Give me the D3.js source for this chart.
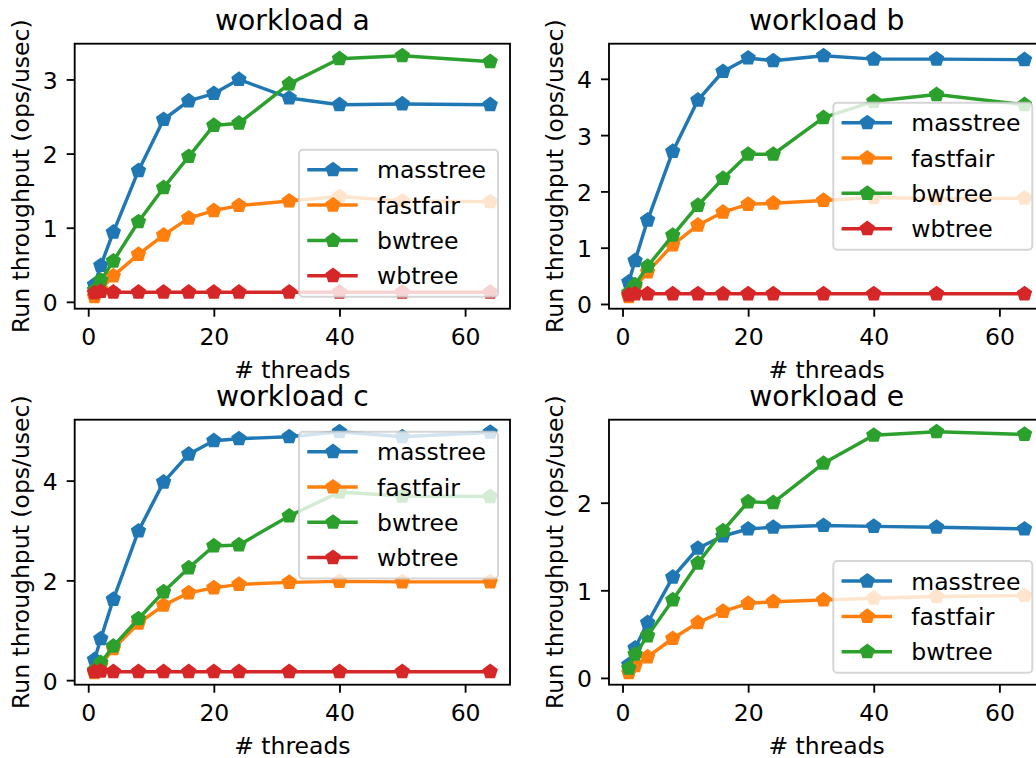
<!DOCTYPE html>
<html>
<head>
<meta charset="utf-8">
<script src="https://cdn.jsdelivr.net/npm/d3@7"></script>
<style>
body { margin: 0; background: #fff; }
svg { display: block; font-family: "DejaVu Sans", sans-serif; }
</style>
</head>
<body>
<svg id="svg"></svg>
<script>
//Data
const threads = [1, 2, 4, 8, 12, 16, 20, 24, 32, 40, 50, 64];
const seriesNames = ["masstree", "fastfair", "bwtree", "wbtree"];
const colors = ["#1f77b4", "#ff7f0e", "#2ca02c", "#d62728"];
const titles = ["workload a", "workload b", "workload c", "workload e"];
const xTicks = [0, 20, 40, 60];
const yTicksA = [0, 1, 2, 3];
const yTicksB = [0, 1, 2, 3, 4];
const yTicksC = [0, 2, 4];
const yTicksE = [0, 1, 2];
const xLabel = "# threads";
const yLabel = "Run throughput (ops/usec)";

// workload a
const aMasstree = [0.23, 0.49, 0.94, 1.77, 2.46, 2.71, 2.81, 3.00, 2.75, 2.66, 2.67, 2.66];
const aFastfair = [0.07, 0.17, 0.35, 0.64, 0.90, 1.13, 1.23, 1.30, 1.36, 1.42, 1.36, 1.35];
const aBwtree = [0.16, 0.29, 0.55, 1.08, 1.54, 1.96, 2.38, 2.41, 2.94, 3.28, 3.32, 3.24];
const aWbtree = [0.12, 0.14, 0.13, 0.13, 0.13, 0.13, 0.13, 0.13, 0.13, 0.13, 0.13, 0.13];

// workload b
const bMasstree = [0.39, 0.77, 1.49, 2.71, 3.62, 4.13, 4.37, 4.32, 4.41, 4.35, 4.35, 4.34];
const bFastfair = [0.13, 0.30, 0.57, 1.05, 1.40, 1.63, 1.77, 1.79, 1.84, 1.89, 1.87, 1.88];
const bBwtree = [0.20, 0.34, 0.67, 1.22, 1.75, 2.23, 2.66, 2.66, 3.31, 3.60, 3.72, 3.54];
const bWbtree = [0.16, 0.18, 0.18, 0.18, 0.18, 0.18, 0.18, 0.18, 0.18, 0.18, 0.18, 0.18];

// workload c
const cMasstree = [0.41, 0.83, 1.62, 2.99, 3.97, 4.53, 4.80, 4.84, 4.88, 4.98, 4.88, 4.97];
const cFastfair = [0.15, 0.30, 0.63, 1.14, 1.50, 1.75, 1.85, 1.92, 1.96, 1.98, 1.97, 1.97];
const cBwtree = [0.20, 0.35, 0.68, 1.23, 1.77, 2.25, 2.69, 2.71, 3.29, 3.77, 3.69, 3.68];
const cWbtree = [0.17, 0.18, 0.17, 0.17, 0.17, 0.17, 0.17, 0.17, 0.17, 0.17, 0.17, 0.17];

// workload e (no wbtree)
const eMasstree = [0.15, 0.34, 0.63, 1.15, 1.48, 1.62, 1.70, 1.72, 1.74, 1.73, 1.72, 1.70];
const eFastfair = [0.06, 0.14, 0.24, 0.45, 0.63, 0.76, 0.85, 0.87, 0.89, 0.91, 0.93, 0.94];
const eBwtree = [0.11, 0.27, 0.48, 0.89, 1.31, 1.68, 2.01, 2.00, 2.45, 2.77, 2.81, 2.78];

const panelSeries = [
    [aMasstree, aFastfair, aBwtree, aWbtree],
    [bMasstree, bFastfair, bBwtree, bWbtree],
    [cMasstree, cFastfair, cBwtree, cWbtree],
    [eMasstree, eFastfair, eBwtree]
];
const panelYTicks = [yTicksA, yTicksB, yTicksC, yTicksE];

//Layout
const svgWidth = 1036;
const svgHeight = 758;
const axW = 435.3;
const axH = 265;
const panelPos = [
    { left: 74.7, top: 43.7, legend: "lower right" },
    { left: 609, top: 43.7, legend: "center right" },
    { left: 74.7, top: 419.7, legend: "upper right" },
    { left: 609, top: 419.7, legend: "lower right" }
];
const fontSize = 23.5;
const titleSize = 28.2;
const lineWidth = 3.46;
const spineWidth = 1.84;
const tickLen = 8;
const markerR = 8.1;

// pentagon marker for d3.symbol, size = radius^2
const pentagon = {
    draw(ctx, size) {
        const r = Math.sqrt(size);
        for (let k = 0; k < 5; k++) {
            const a = -Math.PI / 2 + k * 2 * Math.PI / 5;
            if (k === 0) ctx.moveTo(r * Math.cos(a), r * Math.sin(a));
            else ctx.lineTo(r * Math.cos(a), r * Math.sin(a));
        }
        ctx.closePath();
    }
};
const markerPath = d3.symbol().type(pentagon).size(markerR * markerR)();

const svg = d3.select("#svg")
    .attr("width", svgWidth)
    .attr("height", svgHeight);

// matplotlib-like autoscale with 5% margins
function padded(lo, hi) {
    const m = (hi - lo) * 0.05;
    return [lo - m, hi + m];
}

panelPos.forEach((p, pi) => {
    const series = panelSeries[pi];
    const allVals = series.flat();

    const x = d3.scaleLinear()
        .domain(padded(d3.min(threads), d3.max(threads)))
        .range([p.left, p.left + axW]);
    const y = d3.scaleLinear()
        .domain(padded(d3.min(allVals), d3.max(allVals)))
        .range([p.top + axH, p.top]);

    const g = svg.append("g");

    const clipId = "clip" + pi;
    g.append("clipPath").attr("id", clipId)
        .append("rect")
        .attr("x", p.left).attr("y", p.top)
        .attr("width", axW).attr("height", axH);

    // lines + markers, one series at a time
    const plot = g.append("g").attr("clip-path", "url(#" + clipId + ")");
    const line = d3.line()
        .x((d, i) => x(threads[i]))
        .y(d => y(d));

    series.forEach((vals, si) => {
        plot.append("path")
            .datum(vals)
            .attr("d", line)
            .attr("fill", "none")
            .attr("stroke", colors[si])
            .attr("stroke-width", lineWidth)
            .attr("stroke-linejoin", "round")
            .attr("stroke-linecap", "square");
        plot.selectAll(null)
            .data(vals)
            .enter()
            .append("path")
            .attr("d", markerPath)
            .attr("fill", colors[si])
            .attr("transform", (d, i) => "translate(" + x(threads[i]) + "," + y(d) + ")");
    });

    // axes
    const xAxis = d3.axisBottom(x).tickValues(xTicks).tickSize(tickLen).tickPadding(8).tickFormat(d3.format("d"));
    const yAxis = d3.axisLeft(y).tickValues(panelYTicks[pi]).tickSize(tickLen).tickPadding(8).tickFormat(d3.format("d"));

    const xg = g.append("g")
        .attr("transform", "translate(0," + (p.top + axH) + ")")
        .call(xAxis);
    const yg = g.append("g")
        .attr("transform", "translate(" + p.left + ",0)")
        .call(yAxis);

    [xg, yg].forEach(a => {
        a.select(".domain").remove();
        a.selectAll(".tick line").attr("stroke", "#000").attr("stroke-width", spineWidth);
        a.selectAll(".tick text")
            .attr("fill", "#000")
            .style("font-size", fontSize + "px")
            .style("font-family", "DejaVu Sans");
    });
    xg.selectAll(".tick text").attr("y", 36).attr("dy", null);
    yg.selectAll(".tick text").attr("x", -17).attr("dy", null).attr("y", 9);

    // spines
    g.append("rect")
        .attr("x", p.left).attr("y", p.top)
        .attr("width", axW).attr("height", axH)
        .attr("fill", "none")
        .attr("stroke", "#000")
        .attr("stroke-width", spineWidth);

    // title & labels
    g.append("text")
        .attr("x", p.left + axW / 2)
        .attr("y", p.top - 13.5)
        .attr("text-anchor", "middle")
        .style("font-size", titleSize + "px")
        .text(titles[pi]);

    g.append("text")
        .attr("x", p.left + axW / 2)
        .attr("y", p.top + axH + 69.5)
        .attr("text-anchor", "middle")
        .style("font-size", fontSize + "px")
        .text(xLabel);

    g.append("text")
        .attr("transform", "translate(" + (p.left - 46) + "," + (p.top + axH / 2) + ") rotate(-90)")
        .attr("text-anchor", "middle")
        .style("font-size", fontSize + "px")
        .text(yLabel);

    // legend
    const n = series.length;
    const legW = 199;
    const rowGap = 35.3;
    const legH = 41 + (n - 1) * rowGap;
    const inset = 12;
    const legX = p.left + axW - inset - legW;
    var legY;
    if (p.legend === "upper right") legY = p.top + inset;
    else if (p.legend === "center right") legY = p.top + axH / 2 - legH / 2;
    else legY = p.top + axH - inset - legH;

    const leg = g.append("g").attr("transform", "translate(" + legX + "," + legY + ")");
    leg.append("rect")
        .attr("width", legW).attr("height", legH)
        .attr("rx", 4).attr("ry", 4)
        .attr("fill", "#fff").attr("fill-opacity", 0.8)
        .attr("stroke", "#cccccc").attr("stroke-opacity", 0.8)
        .attr("stroke-width", 2);

    for (let si = 0; si < n; si++) {
        const cy = 20 + si * rowGap;
        leg.append("line")
            .attr("x1", 10).attr("x2", 57)
            .attr("y1", cy).attr("y2", cy)
            .attr("stroke", colors[si])
            .attr("stroke-width", lineWidth)
            .attr("stroke-linecap", "square");
        leg.append("path")
            .attr("d", markerPath)
            .attr("fill", colors[si])
            .attr("transform", "translate(34," + cy + ")");
        leg.append("text")
            .attr("x", 78)
            .attr("y", cy + 8.6)
            .style("font-size", fontSize + "px")
            .text(seriesNames[si]);
    }
});
</script>
</body>
</html>
